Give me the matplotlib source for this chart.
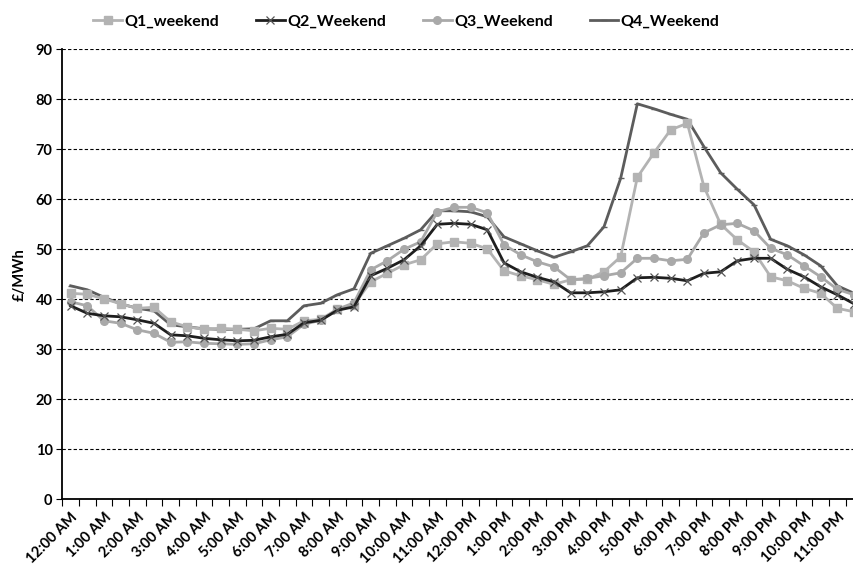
import matplotlib
matplotlib.use("Agg")
import matplotlib.pyplot as plt
import numpy as np

hour_labels = ["12:00 AM", "1:00 AM", "2:00 AM", "3:00 AM", "4:00 AM", "5:00 AM",
               "6:00 AM", "7:00 AM", "8:00 AM", "9:00 AM", "10:00 AM", "11:00 AM",
               "12:00 PM", "1:00 PM", "2:00 PM", "3:00 PM", "4:00 PM", "5:00 PM",
               "6:00 PM", "7:00 PM", "8:00 PM", "9:00 PM", "10:00 PM", "11:00 PM"]

q1_weekend = [41.2, 41.0, 40.1, 39.1, 38.2, 38.4, 35.5, 34.5, 34.0, 34.2, 34.0, 33.7,
              34.2, 34.0, 35.7, 36.0, 38.0, 38.9, 43.5, 45.2, 46.9, 47.9, 51.1, 51.5,
              51.2, 50.1, 45.7, 44.7, 43.9, 43.0, 43.9, 44.0, 45.5, 48.5, 64.4, 69.3,
              73.9, 75.2, 62.5, 55.0, 51.9, 49.5, 44.5, 43.7, 42.2, 41.2, 38.2, 37.5]

q2_weekend = [38.7, 37.2, 36.7, 36.5, 35.9, 35.2, 32.9, 32.7, 32.2, 31.9, 31.7, 31.8,
              32.5, 33.0, 35.3, 35.8, 37.8, 38.5, 44.7, 46.2, 47.9, 50.7, 55.0, 55.2,
              55.0, 53.9, 47.3, 45.5, 44.4, 43.5, 41.3, 41.3, 41.5, 41.9, 44.3, 44.4,
              44.2, 43.7, 45.2, 45.5, 47.7, 48.2, 48.2, 46.0, 44.5, 42.5, 40.9, 39.1]

q3_weekend = [39.5, 38.7, 35.7, 35.2, 33.9, 33.2, 31.4, 31.5, 31.2, 31.1, 31.0, 31.1,
              31.9, 32.5, 35.0, 35.8, 38.0, 39.3, 45.9, 47.7, 50.0, 51.5, 57.5, 58.4,
              58.4, 57.3, 50.9, 48.9, 47.5, 46.5, 43.9, 44.2, 44.7, 45.3, 48.2, 48.2,
              47.7, 48.0, 53.3, 54.9, 55.2, 53.7, 50.2, 48.9, 46.7, 44.5, 42.0, 40.9]

q4_weekend = [42.7, 41.9, 40.4, 39.1, 38.2, 37.7, 34.9, 34.5, 34.1, 34.0, 34.0, 34.1,
              35.7, 35.7, 38.7, 39.2, 40.9, 42.1, 49.2, 50.7, 52.2, 53.9, 57.7, 57.7,
              57.5, 56.5, 52.5, 51.1, 49.7, 48.4, 49.5, 50.7, 54.5, 64.2, 79.1, 78.1,
              77.0, 76.0, 70.5, 65.3, 62.0, 58.9, 52.0, 50.7, 48.9, 46.7, 42.7, 41.2]

series_names = ["Q1_weekend", "Q2_Weekend", "Q3_Weekend", "Q4_Weekend"]

plt.rcParams['font.family'] = ['Lato', 'DejaVu Sans']
plt.rcParams['font.weight'] = 'bold'

fig = plt.figure(figsize=(8.54, 5.71), dpi=100)
ax = fig.add_axes([62.3 / 854, 1 - 499.3 / 571, 1 - 62.3 / 854, (499.3 - 49.3) / 571])

x = np.arange(len(q1_weekend))

ax.plot(x, q4_weekend, color="#5c5c5c", lw=2.0, marker="_", ms=4, mew=1.0,
        label=series_names[3], zorder=3, clip_on=False)
ax.plot(x, q1_weekend, color="#b3b3b3", lw=2.0, marker="s", ms=5.5, mec="#b3b3b3",
        label=series_names[0], zorder=4, clip_on=False)
ax.plot(x, q3_weekend, color="#a9a9a9", lw=2.0, marker="o", ms=5.5, mec="#a9a9a9",
        label=series_names[2], zorder=5, clip_on=False)
ax.plot(x, q2_weekend, color="#1e1e1e", lw=2.0, marker="x", ms=6, mew=0.9,
        mec="#555555", label=series_names[1], zorder=6, clip_on=False)

ax.set_xlim(-0.5, 47.0)
ax.set_ylim(0, 90)
ax.set_yticks(np.arange(0, 91, 10))
ax.yaxis.grid(True, color="black", linestyle=(0, (3, 2)), lw=0.8)
ax.set_axisbelow(True)

for s in ["top", "right"]:
    ax.spines[s].set_visible(False)
ax.spines["left"].set_linewidth(1.3)
ax.spines["bottom"].set_linewidth(1.3)

# category boundary tick marks
ax.set_xticks(np.arange(-0.5, 47.5, 1.0), minor=True)
ax.set_xticks(np.arange(0, 48, 2))
ax.set_xticklabels(hour_labels, rotation=45, ha="right", va="top",
                   rotation_mode="anchor", fontsize=10.5, fontweight="bold")
ax.tick_params(axis="x", which="major", length=0, pad=8)
ax.tick_params(axis="x", which="minor", length=5, width=0.8, direction="out")
ax.tick_params(axis="y", length=4, width=0.8, labelsize=10.5, pad=3)
for lab in ax.get_yticklabels():
    lab.set_fontweight("bold")

ax.set_ylabel("£/MWh", fontsize=10.5, fontweight="bold", labelpad=6)

handles, labels = ax.get_legend_handles_labels()
order = [1, 3, 2, 0]
fig.legend([handles[i] for i in order], [labels[i] for i in order],
           loc="upper center", bbox_to_anchor=(0.476, 1.0), ncol=4, frameon=False,
           handlelength=1.8, handletextpad=0.15, columnspacing=2.3,
           prop={"weight": "bold", "size": 11.5})

fig.savefig("out.png", dpi=100)
